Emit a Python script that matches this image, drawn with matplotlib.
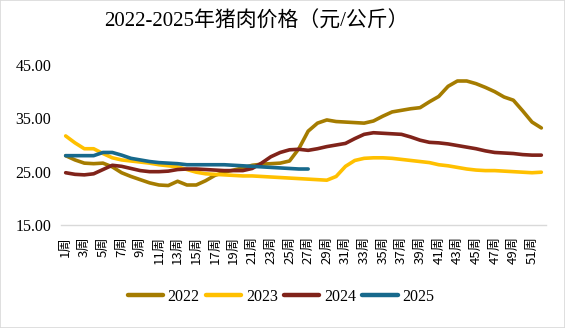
import matplotlib
matplotlib.use("Agg")
import matplotlib.pyplot as plt
from matplotlib.patches import Rectangle

# Weekly pork prices (yuan/kg)
weeks = list(range(1, 53))
tick_weeks = list(range(1, 53, 2))
tick_labels = [f"{w}周" for w in tick_weeks]

price_2022 = [28.0, 27.2, 26.6, 26.5, 26.6, 25.9, 24.8, 24.1, 23.5, 22.9,
              22.5, 22.4, 23.2, 22.5, 22.5, 23.3, 24.3, 24.9, 25.3, 25.7,
              26.2, 26.4, 26.5, 26.6, 27.0, 29.3, 32.6, 34.1, 34.7, 34.4,
              34.3, 34.2, 34.1, 34.5, 35.4, 36.2, 36.5, 36.8, 37.0, 38.1,
              39.1, 41.0, 42.0, 42.0, 41.5, 40.8, 40.0, 39.0, 38.4, 36.4,
              34.3, 33.2]
price_2023 = [31.7, 30.4, 29.3, 29.3, 28.4, 27.6, 27.2, 27.0, 26.8, 26.6,
              26.3, 26.1, 25.9, 25.4, 24.9, 24.6, 24.5, 24.4, 24.3, 24.2,
              24.2, 24.1, 24.0, 23.9, 23.8, 23.7, 23.6, 23.5, 23.4, 24.1,
              26.0, 27.1, 27.5, 27.6, 27.6, 27.5, 27.3, 27.1, 26.9, 26.7,
              26.3, 26.1, 25.8, 25.5, 25.3, 25.2, 25.2, 25.1, 25.0, 24.9,
              24.8, 24.9]
price_2024 = [24.8, 24.5, 24.4, 24.6, 25.4, 26.2, 26.0, 25.6, 25.2, 25.0,
              25.0, 25.1, 25.4, 25.5, 25.5, 25.4, 25.3, 25.2, 25.2, 25.2,
              25.6, 26.6, 27.8, 28.6, 29.1, 29.2, 29.0, 29.3, 29.7, 30.0,
              30.3, 31.2, 32.0, 32.3, 32.2, 32.1, 32.0, 31.5, 30.9, 30.5,
              30.4, 30.2, 29.9, 29.6, 29.3, 28.9, 28.6, 28.5, 28.4, 28.2,
              28.1, 28.1]
price_2025 = [28.0, 28.0, 28.0, 28.0, 28.6, 28.6, 28.1, 27.5, 27.2, 26.9,
              26.7, 26.6, 26.5, 26.3, 26.3, 26.3, 26.3, 26.3, 26.2, 26.1,
              26.0, 25.9, 25.8, 25.7, 25.6, 25.5, 25.5]

series = [("2022", price_2022, "#A57C00"),
          ("2023", price_2023, "#FFC000"),
          ("2024", price_2024, "#80231A"),
          ("2025", price_2025, "#17698C")]

serif = ["Liberation Serif", "Noto Sans CJK SC"]

W, H = 565, 328
fig = plt.figure(figsize=(W / 100, H / 100), dpi=100)
fig.patches.append(Rectangle((0, 0), 1, 1, transform=fig.transFigure,
                             fill=False, edgecolor="#D9D9D9", linewidth=1.2))

ax = fig.add_axes([61 / W, 1 - 225 / H, (546 - 61) / W, (225 - 65) / H])
for name, vals, color in series:
    ax.plot(weeks[:len(vals)], vals, color=color, linewidth=2.6,
            solid_capstyle="round", label=name)

ax.set_xlim(0.5, 52.5)
ax.set_ylim(15, 45)
ax.set_yticks([15, 25, 35, 45])
ax.set_yticklabels([f"{v:.2f}" for v in [15, 25, 35, 45]],
                   family=serif, fontsize=11.5)
ax.set_xticks(tick_weeks)
ax.set_xticklabels(tick_labels, rotation=90, family=["Noto Sans CJK SC"],
                   fontsize=9.5, va="top", ha="center")
ax.tick_params(axis="both", length=0)
ax.tick_params(axis="y", pad=7)
ax.tick_params(axis="x", pad=8)
for s in ["top", "right", "left"]:
    ax.spines[s].set_visible(False)
ax.spines["bottom"].set_color("#D9D9D9")
ax.spines["bottom"].set_linewidth(1.0)

fig.text(256 / W, 1 - 22 / H, "2022-2025年猪肉价格（元/公斤）",
         family=serif, fontsize=15, ha="center", va="center")

leg = fig.legend(loc="center", bbox_to_anchor=(281 / W, 1 - 297 / H),
                 ncol=4, frameon=False, prop={"family": serif, "size": 11.5},
                 handlelength=2.2, handletextpad=0.3, columnspacing=0.4)
for line in leg.get_lines():
    line.set_linewidth(3.2)

fig.savefig("out.png", dpi=100)
